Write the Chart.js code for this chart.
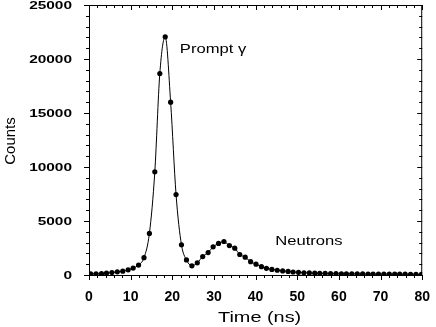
<!DOCTYPE html>
<html>
<head>
<meta charset="utf-8">
<script src="https://cdn.jsdelivr.net/npm/chart.js@4.4.0/dist/chart.umd.min.js"></script>
<style>
  html, body { margin: 0; padding: 0; background: #fff; }
  #wrap { width: 436px; height: 327px; }
</style>
</head>
<body>
<div id="wrap"><canvas id="tofChart" width="436" height="327"></canvas></div>
<script>
// tempo de cada canal (ns)
var tempos = [0.4, 1.7, 3.0, 4.2, 5.5, 6.8, 8.1, 9.4, 10.6, 11.9,
    13.2, 14.5, 15.8, 17.0, 18.3, 19.6, 20.9, 22.2, 23.4, 24.7,
    26.0, 27.3, 28.6, 29.8, 31.1, 32.4, 33.7, 35.0, 36.2, 37.5,
    38.8, 40.1, 41.4, 42.6, 43.9, 45.2, 46.5, 47.8, 49.0, 50.3,
    51.6, 52.9, 54.2, 55.4, 56.7, 58.0, 59.3, 60.6, 61.8, 63.1,
    64.4, 65.7, 67.0, 68.2, 69.5, 70.8, 72.1, 73.4, 74.6, 75.9,
    77.2, 78.5, 79.8];
// contagens por canal
var contagens = [100, 110, 120, 170, 220, 290, 350, 480, 640, 920,
    1600, 3850, 9550, 18650, 22050, 16000, 7450, 2800, 1400, 850,
    1130, 1710, 2080, 2610, 2920, 3100, 2720, 2480, 1900, 1650,
    1230, 1000, 770, 620, 520, 440, 380, 330, 280, 240,
    210, 190, 170, 160, 145, 135, 125, 115, 110, 105,
    100, 95, 90, 88, 85, 82, 80, 78, 75, 72,
    70, 68, 65];

var yTicks = [0, 5000, 10000, 15000, 20000, 25000];
var xTitulo = 'Time (ns)';
var yTitulo = 'Counts';
var notasTexto = ['Prompt \u03b3', 'Neutrons'];
var notasX = [21.8, 44.7];
var notasY = [20530, 2780];

function textoEsticado(ctx, txt, x, y, sx, font, align, base) {
    ctx.save();
    ctx.translate(x, y);
    ctx.scale(sx, 1);
    ctx.font = font;
    ctx.textAlign = align;
    ctx.textBaseline = base;
    ctx.fillText(txt, 0, 0);
    ctx.restore();
}

// moldura, marcas dos eixos e textos
var molduraPlugin = {
    id: 'moldura',
    afterDraw: function (chart) {
        var ctx = chart.ctx, a = chart.chartArea;
        var xs = chart.scales.x, ys = chart.scales.y;
        ctx.save();
        ctx.strokeStyle = '#000';
        ctx.lineWidth = 1;
        ctx.strokeRect(a.left + 0.5, a.top + 0.5, a.right - a.left - 1, a.bottom - a.top);
        ctx.beginPath();
        for (var v = 0; v <= 80; v += 2) {
            var px = Math.round(xs.getPixelForValue(v)) + 0.5;
            var len = v % 10 === 0 ? 5 : 3;
            ctx.moveTo(px, a.bottom);
            ctx.lineTo(px, a.bottom + len);
            ctx.moveTo(px, a.top);
            ctx.lineTo(px, a.top + len);
        }
        for (var w = 0; w <= 25000; w += 1000) {
            var py = Math.round(ys.getPixelForValue(w)) + 0.5;
            var l2 = w % 5000 === 0 ? 5 : 3;
            ctx.moveTo(a.left - l2, py);
            ctx.lineTo(a.left, py);
            ctx.moveTo(a.right - l2, py);
            ctx.lineTo(a.right, py);
        }
        ctx.stroke();

        ctx.fillStyle = '#000';
        yTicks.forEach(function (t) {
            textoEsticado(ctx, String(t), 72, ys.getPixelForValue(t) + 1, 1.4,
                'bold 11px "Liberation Sans", Arial, sans-serif', 'right', 'middle');
        });
        textoEsticado(ctx, xTitulo, (a.left + a.right) / 2 + 4, 322, 1.42,
            '14px "Liberation Sans", Arial, sans-serif', 'center', 'alphabetic');
        for (var i = 0; i < notasTexto.length; i++) {
            textoEsticado(ctx, notasTexto[i], xs.getPixelForValue(notasX[i]),
                ys.getPixelForValue(notasY[i]), 1.23,
                '13.5px "Liberation Sans", Arial, sans-serif', 'left', 'alphabetic');
        }
        ctx.save();
        ctx.translate(15, 141);
        ctx.rotate(-Math.PI / 2);
        ctx.font = '15px "Liberation Sans", Arial, sans-serif';
        ctx.textAlign = 'center';
        ctx.textBaseline = 'alphabetic';
        ctx.fillText(yTitulo, 0, 0);
        ctx.restore();
        ctx.restore();
    }
};

var pontos = tempos.map(function (t, i) { return { x: t, y: contagens[i] }; });

var ctxTof = document.getElementById('tofChart').getContext('2d');
new Chart(ctxTof, {
    type: 'line',
    data: {
        datasets: [{
            data: pontos,
            borderColor: '#000',
            borderWidth: 1,
            backgroundColor: '#000',
            pointBackgroundColor: '#000',
            pointBorderWidth: 0,
            pointRadius: 2.6,
            cubicInterpolationMode: 'monotone',
            fill: false
        }]
    },
    options: {
        responsive: false,
        animation: false,
        devicePixelRatio: 1,
        layout: { padding: { top: 5, right: 0, left: 0, bottom: 0 } },
        plugins: { legend: { display: false }, tooltip: { enabled: false } },
        scales: {
            x: {
                type: 'linear',
                min: 0,
                max: 80,
                grid: { display: false },
                border: { display: false },
                ticks: {
                    stepSize: 10,
                    color: '#000',
                    padding: 6,
                    maxRotation: 0,
                    font: { family: '"Liberation Sans", Arial, sans-serif', size: 14, weight: 'bold' }
                },
                afterFit: function (scale) { scale.height = 52; }
            },
            y: {
                min: 0,
                max: 25000,
                grid: { display: false },
                border: { display: false },
                ticks: { display: false, stepSize: 5000 },
                afterFit: function (scale) { scale.width = 89; }
            }
        }
    },
    plugins: [molduraPlugin]
});
</script>
</body>
</html>
